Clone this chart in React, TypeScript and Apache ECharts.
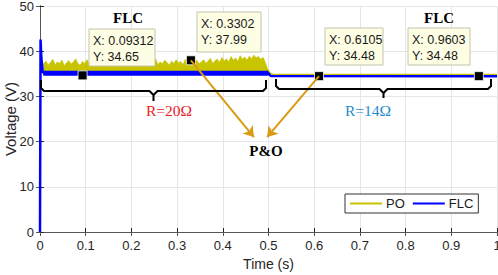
import React, { useEffect, useRef } from "react";
import * as echarts from "echarts";

// ---- data ----
const xTicks = [0, 0.1, 0.2, 0.3, 0.4, 0.5, 0.6, 0.7, 0.8, 0.9, 1];
const yTicks = [0, 10, 20, 30, 40, 50];

// PO: upper envelope of the oscillating band, sampled every 5 ms from t = 8 ms
const PO_T0 = 0.008;
const PO_DT = 0.005;
const PO_BASE = 35.2;
const poUpper = [
  37.2, 37.8, 36.9, 37.5, 38.2, 37.0, 37.6, 37.3, 38.0, 36.8,
  37.4, 37.9, 37.1, 37.6, 38.3, 37.2, 36.9, 37.7, 37.3, 38.1,
  37.0, 37.5, 37.8, 36.9, 37.4, 38.0, 37.2, 37.6, 37.1, 37.9,
  37.3, 38.2, 36.9, 37.5, 37.7, 37.0, 37.8, 37.4, 38.1, 37.2,
  37.6, 36.8, 37.5, 38.0, 37.3, 37.7, 37.1, 37.9, 37.4, 38.3,
  37.0, 37.6, 37.2, 38.0, 37.5, 36.9, 37.8, 37.3, 38.1, 37.4,
  37.7, 37.0, 38.2, 37.5, 37.1, 37.9, 37.4, 38.0, 37.2, 37.6,
  38.1, 37.3, 37.8, 38.4, 37.2, 37.9, 38.2, 37.5, 38.6, 37.8,
  38.3, 37.6, 38.8, 38.0, 38.5, 37.7, 39.0, 38.2, 38.7, 38.0,
  38.9, 38.3, 39.1, 38.5, 38.8, 38.2, 38.6, 37.5, 36.0,
];
// PO after the load step
const poTailT = [0.498, 0.503, 0.51, 1.0];
const poTailV = [36.0, 35.2, 34.85, 34.85];

// FLC
const flcT = [0, 0.0012, 0.003, 0.006, 0.5, 0.505, 1.0];
const flcV = [0, 42.6, 38.5, 35.3, 35.1, 34.5, 34.48];
const flcBandT = [0.007, 0.5];
const flcBandV = [35.1, 35.1];

// data tips
const tipX = [0.09312, 0.3302, 0.6105, 0.9603];
const tipY = [34.65, 37.99, 34.48, 34.48];

// arrows to the "P&O" label
const arrowFrom = [[0.3302, 37.99], [0.6105, 34.48]];
const arrowTo = [[0.468, 21.0], [0.497, 21.0]];

const YELLOW = "#C8C400";
const BLUE = "#0000FF";
const ORANGE = "#D99A14";
const SANS = "Liberation Sans, Arial, sans-serif";
const SERIF = "Liberation Serif, Times New Roman, serif";

function tipBox(x: number, y: number, w: number, h: number, l1: string, l2: string) {
  return {
    type: "group",
    children: [
      {
        type: "rect",
        shape: { x, y, width: w, height: h },
        style: { fill: "#FEFEE4", stroke: "#C4C4B0", lineWidth: 1 },
        z: 100,
      },
      {
        type: "text",
        x: x + 4,
        y: y + 12,
        style: { text: l1, fill: "#1a1a1a", font: `12.5px ${SANS}`, verticalAlign: "middle" },
        z: 101,
      },
      {
        type: "text",
        x: x + 4,
        y: y + 28,
        style: { text: l2, fill: "#1a1a1a", font: `12.5px ${SANS}`, verticalAlign: "middle" },
        z: 101,
      },
    ],
  };
}

function brace(x0: number, x1: number, yTop: number, yLine: number, yTip: number) {
  const xm = (x0 + x1) / 2;
  const st = { stroke: "#000", lineWidth: 2, fill: "none" };
  return [
    {
      type: "polyline",
      shape: { points: [[x0, yTop], [x0, yLine - 3], [x0 + 3, yLine], [xm - 4, yLine], [xm, yLine + 4], [xm, yTip]] },
      style: st,
      z: 50,
    },
    {
      type: "polyline",
      shape: { points: [[x1, yTop], [x1, yLine - 3], [x1 - 3, yLine], [xm + 4, yLine], [xm, yLine + 4]] },
      style: st,
      z: 50,
    },
  ];
}

export default function App() {
  const ref = useRef<HTMLDivElement>(null);
  useEffect(() => {
    document.body.style.margin = "0";
    if (!ref.current) return;
    const chart = echarts.init(ref.current, undefined, { renderer: "svg" });
    const axisLineStyle = { color: "#262626", width: 1 };
    const poTimes = poUpper.map((_, i) => PO_T0 + i * PO_DT);
    const option: any = {
      animation: false,
      grid: { left: 40, right: 1, top: 6, bottom: 43, containLabel: false, outerBoundsMode: "none" },
      xAxis: [
        {
          type: "value",
          min: xTicks[0],
          max: xTicks[xTicks.length - 1],
          interval: 0.1,
          name: "Time (s)",
          nameLocation: "middle",
          nameGap: 25,
          nameMoveOverlap: false,
          nameTextStyle: { fontFamily: SANS, fontSize: 14, color: "#262626" },
          axisLine: { lineStyle: axisLineStyle },
          axisTick: { inside: true, length: 4, lineStyle: axisLineStyle },
          axisLabel: { fontFamily: SANS, fontSize: 13, color: "#262626", margin: 7 },
          splitLine: { show: true, lineStyle: { color: "#E6E6E6", width: 1 } },
        },
        {
          type: "value",
          position: "top",
          min: 0,
          max: 1,
          interval: 0.1,
          axisLine: { lineStyle: { color: "#555", width: 1 } },
          axisTick: { inside: true, length: 4, lineStyle: { color: "#555" } },
          axisLabel: { show: false },
          splitLine: { show: false },
        },
      ],
      yAxis: [
        {
          type: "value",
          min: yTicks[0],
          max: yTicks[yTicks.length - 1],
          interval: 10,
          name: "Voltage (V)",
          nameLocation: "middle",
          nameGap: 22,
          nameMoveOverlap: false,
          nameTextStyle: { fontFamily: SANS, fontSize: 15, color: "#262626" },
          axisLine: { show: true, lineStyle: axisLineStyle },
          axisTick: { show: true, inside: true, length: 4, lineStyle: axisLineStyle },
          axisLabel: { fontFamily: SANS, fontSize: 13, color: "#262626", margin: 6 },
          splitLine: { show: true, lineStyle: { color: "#E6E6E6", width: 1 } },
        },
        {
          type: "value",
          position: "right",
          min: 0,
          max: 50,
          interval: 10,
          axisLine: { show: true, lineStyle: { color: "#555", width: 1 } },
          axisTick: { show: true, inside: true, length: 4, lineStyle: { color: "#555" } },
          axisLabel: { show: false },
          splitLine: { show: false },
        },
      ],
      legend: {
        left: 345,
        top: 194,
        orient: "horizontal",
        padding: [3, 5, 3, 5],
        itemGap: 8,
        itemWidth: 32,
        itemHeight: 2,
        backgroundColor: "#fff",
        borderColor: "#333",
        borderWidth: 1,
        borderRadius: 0,
        textStyle: { fontFamily: SANS, fontSize: 13, color: "#1a1a1a", padding: [0, 0, 0, -1] },
        data: [
          { name: "PO", icon: "rect" },
          { name: "FLC", icon: "rect" },
        ],
      },
      series: [
        {
          name: "PO",
          type: "line",
          color: YELLOW,
          showSymbol: false,
          symbol: "none",
          lineStyle: { color: YELLOW, width: 1.5 },
          data: poTailT.map((t, i) => [t, poTailV[i]]),
          z: 2,
        },
        {
          name: "PO",
          type: "custom",
          color: YELLOW,
          renderItem: (_p: any, api: any) => {
            const pts = poTimes.map((t, i) => api.coord([t, poUpper[i]]));
            pts.push(api.coord([poTimes[poTimes.length - 1], PO_BASE]));
            pts.push(api.coord([poTimes[0], PO_BASE]));
            return {
              type: "polygon",
              shape: { points: pts },
              style: { fill: YELLOW, stroke: YELLOW, lineWidth: 0.8 },
            };
          },
          data: [[0, 0]],
          z: 2,
        },
        {
          name: "FLC",
          type: "line",
          color: BLUE,
          symbol: "none",
          lineStyle: { color: BLUE, width: 2.5 },
          data: flcT.map((t, i) => [t, flcV[i]]),
          z: 3,
        },
        {
          name: "FLC",
          type: "line",
          color: BLUE,
          symbol: "none",
          lineStyle: { color: BLUE, width: 5, cap: "butt" },
          data: flcBandT.map((t, i) => [t, flcBandV[i]]),
          z: 3,
        },
        {
          name: "tips",
          type: "scatter",
          symbol: "rect",
          symbolSize: 9,
          itemStyle: { color: "#000", opacity: 1, borderColor: "#fff", borderWidth: 0.8 },
          data: tipX.map((x, i) => [x, tipY[i]]),
          z: 5,
        },
        {
          name: "arrows",
          type: "lines",
          coordinateSystem: "cartesian2d",
          symbol: ["none", "arrow"],
          symbolSize: 10,
          lineStyle: { color: ORANGE, width: 2, opacity: 1 },
          data: arrowFrom.map((f, i) => ({ coords: [f, arrowTo[i]] })),
          z: 6,
        },
      ],
      graphic: [
        ...brace(41, 266, 80, 91, 101),
        ...brace(276, 491, 79, 89, 98),
        tipBox(89, 29, 66, 37, "X: 0.09312", "Y: 34.65"),
        tipBox(197, 12, 64, 40, "X: 0.3302", "Y: 37.99"),
        tipBox(325, 28, 58, 37, "X: 0.6105", "Y: 34.48"),
        tipBox(408, 28, 62, 37, "X: 0.9603", "Y: 34.48"),
        {
          type: "text",
          x: 128,
          y: 18,
          style: { text: "FLC", font: `bold 15px ${SERIF}`, fill: "#000", align: "center", verticalAlign: "middle" },
          z: 60,
        },
        {
          type: "text",
          x: 439,
          y: 18,
          style: { text: "FLC", font: `bold 15px ${SERIF}`, fill: "#000", align: "center", verticalAlign: "middle" },
          z: 60,
        },
        {
          type: "text",
          x: 169,
          y: 110,
          style: { text: "R=20Ω", font: `15.5px ${SERIF}`, fill: "#E8201E", align: "center", verticalAlign: "middle" },
          z: 60,
        },
        {
          type: "text",
          x: 368,
          y: 110,
          style: { text: "R=14Ω", font: `15.5px ${SERIF}`, fill: "#1E8CCC", align: "center", verticalAlign: "middle" },
          z: 60,
        },
        {
          type: "text",
          x: 266,
          y: 151,
          style: { text: "P&O", font: `bold 15px ${SERIF}`, fill: "#000", align: "center", verticalAlign: "middle" },
          z: 60,
        },
      ],
    };
    chart.setOption(option);
    return () => chart.dispose();
  }, []);
  return <div ref={ref} style={{ width: 498, height: 275 }} />;
}
